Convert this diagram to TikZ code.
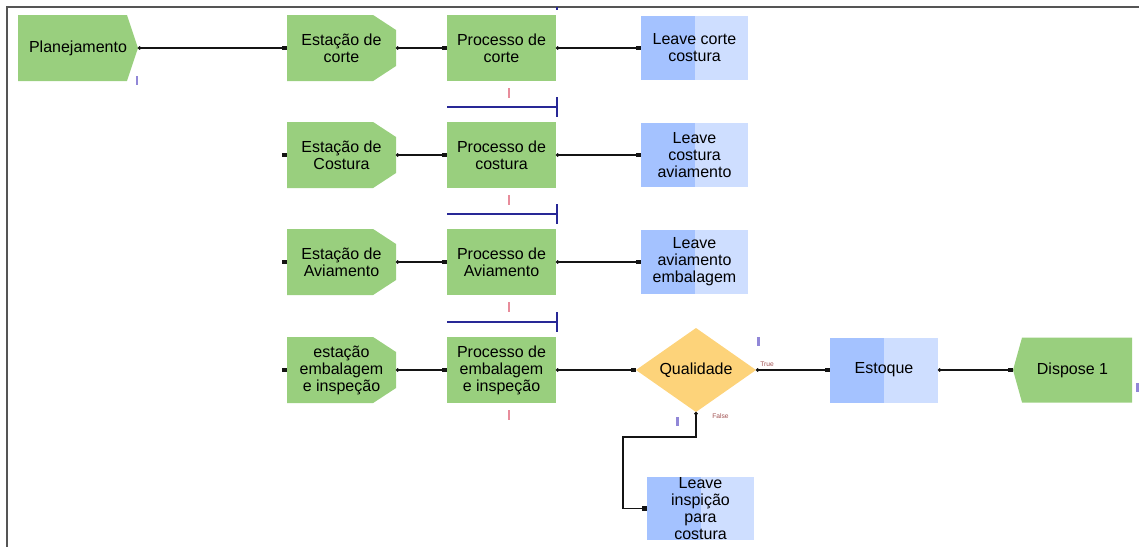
\documentclass[tikz,border=0pt]{standalone}
\usepackage{fontspec}
\setmainfont{Liberation Sans}
\usetikzlibrary{shapes.geometric}
\usetikzlibrary{arrows.meta}
\usetikzlibrary{calc}

\begin{document}
\begin{tikzpicture}[x=0.75pt,y=0.75pt,yscale=-1,xscale=1,
  bloco/.style={rectangle, inner sep=0pt, outer sep=0pt, minimum width=81.75pt, minimum height=49.5pt, align=center, font=\fontsize{12}{12.75}\selectfont},
  processo/.style={bloco, fill={rgb, 255:red, 153; green, 207; blue, 126}},
  estacao/.style={bloco, path picture={\fill[fill={rgb, 255:red, 153; green, 207; blue, 126}] (path picture bounding box.south west) -- (path picture bounding box.north west) -- ($(path picture bounding box.north east)!0.21!(path picture bounding box.north west)$) -- ($(path picture bounding box.north east)!0.227!(path picture bounding box.south east)$) -- ($(path picture bounding box.south east)!0.227!(path picture bounding box.north east)$) -- ($(path picture bounding box.south east)!0.21!(path picture bounding box.south west)$) -- cycle;}},
  criar/.style={bloco, minimum width=90pt, path picture={\fill[fill={rgb, 255:red, 153; green, 207; blue, 126}] (path picture bounding box.south west) -- (path picture bounding box.north west) -- ($(path picture bounding box.north east)!0.092!(path picture bounding box.north west)$) -- (path picture bounding box.east) -- ($(path picture bounding box.south east)!0.092!(path picture bounding box.south west)$) -- cycle;}},
  descarte/.style={bloco, minimum width=89.25pt, minimum height=48.75pt, path picture={\fill[fill={rgb, 255:red, 153; green, 207; blue, 126}] (path picture bounding box.north east) -- (path picture bounding box.south east) -- ($(path picture bounding box.south west)!0.076!(path picture bounding box.south east)$) -- (path picture bounding box.west) -- ($(path picture bounding box.north west)!0.076!(path picture bounding box.north east)$) -- cycle;}},
  saida/.style={bloco, minimum width=80.25pt, minimum height=48pt, fill={rgb, 255:red, 206; green, 222; blue, 255}, path picture={\fill[fill={rgb, 255:red, 164; green, 194; blue, 255}] (path picture bounding box.north west) rectangle (path picture bounding box.south);}},
  decisao/.style={diamond, aspect=1.43, inner sep=0pt, outer sep=0pt, minimum width=90pt, minimum height=63pt, fill={rgb, 255:red, 253; green, 211; blue, 122}, font=\fontsize{12}{12.75}\selectfont},
  conector/.style={draw={rgb, 255:red, 20; green, 20; blue, 20}, line width=1pt, {Circle[length=2.5pt]}-{Square[length=3.5pt]}},
  entrada/.style={rectangle, fill={rgb, 255:red, 20; green, 20; blue, 20}, minimum size=3.5pt, inner sep=0pt, outer sep=0pt},
  fila/.style={draw={rgb, 255:red, 40; green, 40; blue, 150}, line width=0.9pt},
  cursorp/.style={fill={rgb, 255:red, 232; green, 140; blue, 155}},
  cursorb/.style={fill={rgb, 255:red, 145; green, 135; blue, 215}},
  rotulo/.style={inner sep=0.75pt, font=\fontsize{5}{6}\selectfont, color={rgb, 255:red, 160; green, 80; blue, 80}},
  moldura/.style={draw={rgb, 255:red, 85; green, 85; blue, 85}, line width=1.5pt}]
\useasboundingbox (0,0) rectangle (1139,547);

%Frame
\draw[moldura] (1139,7) -- (7,7) -- (7,547);

% Row 1
\node[criar] (plan) at (78,48) {Planejamento};
\node[estacao] (ec) at (341.5,48) {Estação de\\corte};
\node[processo] (pc) at (501.5,48) {Processo de\\corte};
\node[saida] (lc) at (694.5,48) {Leave corte\\costura};
% Row 2
\node[estacao] (ecs) at (341.5,155) {Estação de\\Costura};
\node[processo] (pcs) at (501.5,155) {Processo de\\costura};
\node[saida] (lcs) at (694.5,155) {Leave\\costura\\aviamento};
% Row 3
\node[estacao] (ea) at (341.5,262) {Estação de\\Aviamento};
\node[processo] (pa) at (501.5,262) {Processo de\\Aviamento};
\node[saida] (la) at (694.5,262) {Leave\\aviamento\\embalagem};
% Row 4
\node[estacao] (ee) at (341.5,370) {estação\\embalagem\\e inspeção};
\node[processo] (pe) at (501.5,370) {Processo de\\embalagem\\e inspeção};
\node[decisao] (qual) at (696,370) {Qualidade};
\node[saida, minimum width=81pt, minimum height=48.75pt] (est) at (884,370) {Estoque};
\node[descarte] (disp) at (1072.5,370) {Dispose 1};
\node[saida, minimum height=47.25pt] (lip) at (700.5,508.5) {Leave\\inspição\\para\\costura};

% Text Node
\node[rotulo, anchor=south west] (tv) at (759,368) {True};
% Text Node
\node[rotulo, anchor=north west] (fv) at (711,412) {False};

%Connectors
\foreach \a/\b in {plan/ec, ec/pc, pc/lc, ecs/pcs, pcs/lcs, ea/pa, pa/la, ee/pe, pe/qual, qual/est, est/disp}
  \draw[conector] (\a.east) -- (\b.west);
\coordinate (dobra) at (623,437);
\draw[conector] (qual.south) |- (dobra) |- (lip.west);
\foreach \e in {ecs,ea,ee}
  \node[entrada, anchor=east] (in-\e) at (\e.west) {};

%Queues
\foreach \p in {pcs,pa,pe} {
  \draw[fila] ($(\p.north west)+(0,-15)$) -- ($(\p.north east)+(1,-15)$);
  \draw[fila] ($(\p.north east)+(1,-25)$) -- ($(\p.north east)+(1,-5)$);
}
\draw[fila] ($(pc.north east)+(1,-8)$) -- ($(pc.north east)+(1,-5)$);

%Animation marks
\foreach \p in {pc,pcs,pa,pe}
  \fill[cursorp] ($(\p.south)+(6,7)$) rectangle ($(\p.south)+(8.5,17)$);
\fill[cursorb] (135.5,76) rectangle (138,85);
\fill[cursorb] (757,337) rectangle (759.5,346);
\fill[cursorb] (676,417) rectangle (678.5,426);
\fill[cursorb] (1136,383) rectangle (1138.5,392);

\end{tikzpicture}
\end{document}
